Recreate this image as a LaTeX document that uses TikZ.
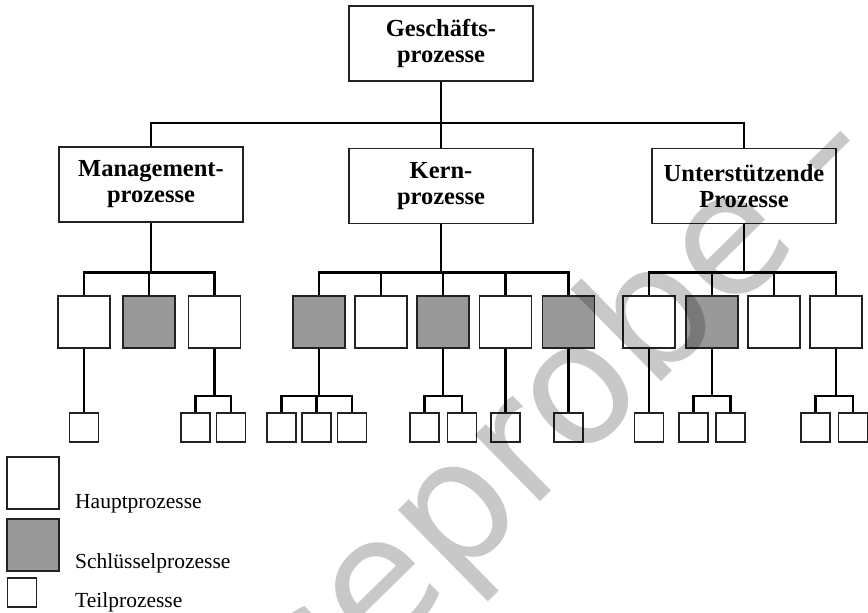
\documentclass[tikz,border=0pt]{standalone}
\usepackage{fontspec}
\setmainfont{Liberation Serif}
\newfontfamily\wmfont{DejaVu Sans}
\definecolor{keygray}{HTML}{999999}
\definecolor{edgecol}{HTML}{222222}
\begin{document}
\begin{tikzpicture}[x=1pt,y=-1pt,
  conn/.style={line width=2.8pt, line join=miter},
  bigbox/.style={draw=edgecol, line width=1.6pt, fill=white, minimum width=184pt, minimum height=75pt, inner sep=0pt, align=center, font=\fontsize{24.5}{26}\selectfont\bfseries},
  hbox/.style={draw=edgecol, line width=1.6pt, fill=white, minimum size=52pt, inner sep=0pt},
  kbox/.style={hbox, fill=keygray},
  tbox/.style={draw=edgecol, line width=1.4pt, fill=white, minimum size=29pt, inner sep=0pt},
  lbl/.style={anchor=base west, inner sep=0pt, font=\fontsize{21.5}{24}\selectfont}]
\useasboundingbox (0,0) rectangle (868,613);

% level 1 and 2
\node[bigbox] (top) at (441,43.5) {Geschäfts-\\prozesse};
\node[bigbox] (mgmt) at (151,184.5) {Management-\\prozesse};
\node[bigbox] (kern) at (441,186) {Kern-\\prozesse};
\node[bigbox] (unter) at (744,186) {Unterstützende\\Prozesse};

% level 3
\node[hbox] (m1) at (84,322) {};
\node[kbox] (m2) at (149,322) {};
\node[hbox] (m3) at (214.5,322) {};
\node[kbox] (k1) at (319,322) {};
\node[hbox] (k2) at (381,322) {};
\node[kbox] (k3) at (443,322) {};
\node[hbox] (k4) at (505.5,322) {};
\node[kbox] (k5) at (568.5,322) {};
\node[hbox] (u1) at (649,322) {};
\node[kbox] (u2) at (712,322) {};
\node[hbox] (u3) at (774,322) {};
\node[hbox] (u4) at (836,322) {};

% level 4
\node[tbox] (a1) at (84,427.5) {};
\node[tbox] (b1) at (195.5,427.5) {};
\node[tbox] (b2) at (231,427.5) {};
\node[tbox] (c1) at (281.5,427.5) {};
\node[tbox] (c2) at (316.5,427.5) {};
\node[tbox] (c3) at (352,427.5) {};
\node[tbox] (d1) at (424.5,427.5) {};
\node[tbox] (d2) at (462,427.5) {};
\node[tbox] (e1) at (505.5,427.5) {};
\node[tbox] (f1) at (568.5,427.5) {};
\node[tbox] (g1) at (649,427.5) {};
\node[tbox] (h1) at (693.5,427.5) {};
\node[tbox] (h2) at (730.5,427.5) {};
\node[tbox] (i1) at (815.5,427.5) {};
\node[tbox] (i2) at (853,427.5) {};

% buses
\coordinate (busA) at (0,123);
\coordinate (busB) at (0,272.5);
\coordinate (busC) at (0,396);

\foreach \c in {mgmt,kern,unter} \draw[conn] (top.south) -- (top.south |- busA) -| (\c.north);
\foreach \c in {m1,m2,m3} \draw[conn] (mgmt.south) -- (mgmt.south |- busB) -| (\c.north);
\foreach \c in {k1,k2,k3,k4,k5} \draw[conn] (kern.south) -- (kern.south |- busB) -| (\c.north);
\foreach \c in {u1,u2,u3,u4} \draw[conn] (unter.south) -- (unter.south |- busB) -| (\c.north);

\draw[conn] (m1.south) -- (a1.north);
\foreach \c in {b1,b2} \draw[conn] (m3.south) -- (m3.south |- busC) -| (\c.north);
\foreach \c in {c1,c2,c3} \draw[conn] (k1.south) -- (k1.south |- busC) -| (\c.north);
\foreach \c in {d1,d2} \draw[conn] (k3.south) -- (k3.south |- busC) -| (\c.north);
\draw[conn] (k4.south) -- (e1.north);
\draw[conn] (k5.south) -- (f1.north);
\draw[conn] (u1.south) -- (g1.north);
\foreach \c in {h1,h2} \draw[conn] (u2.south) -- (u2.south |- busC) -| (\c.north);
\foreach \c in {i1,i2} \draw[conn] (u4.south) -- (u4.south |- busC) -| (\c.north);

% legend
\node[hbox] (lh) at (33,483) {};
\node[kbox] (lk) at (33,545) {};
\node[tbox] (lt) at (22,592.5) {};
\node[lbl] (th) at (75,508) {Hauptprozesse};
\node[lbl] (tk) at (75,568) {Schlüsselprozesse};
\node[lbl] (tt) at (75,607) {Teilprozesse};

% watermark
\begin{scope}
\clip (0,0) rectangle (868,613);
\node[anchor=base west, rotate=44.5, inner sep=0pt, text=black, text opacity=0.216, font=\wmfont\fontsize{170}{170}\selectfont] (wm) at (174.6,861) {Leseprobe -};
\end{scope}
\end{tikzpicture}
\end{document}
